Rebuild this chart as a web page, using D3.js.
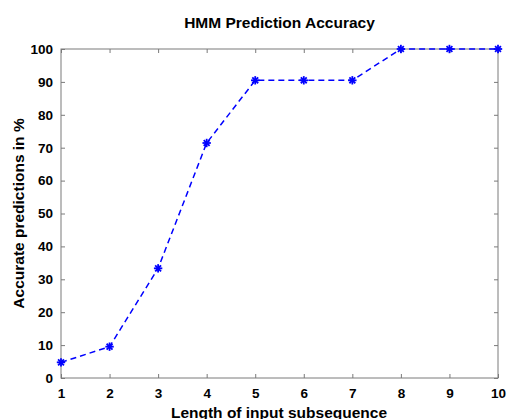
<!DOCTYPE html>
<html>
<head>
<meta charset="utf-8">
<script src="https://cdn.jsdelivr.net/npm/d3@7"></script>
<style>
  body { margin: 0; background: #fff; }
  svg text { font-family: "Liberation Sans", Arial, sans-serif; font-weight: bold; fill: #000; }
</style>
</head>
<body>
<div id="chart"></div>
<script>
const lengths = [1, 2, 3, 4, 5, 6, 7, 8, 9, 10];
const accuracy = [4.76, 9.52, 33.33, 71.43, 90.48, 90.48, 90.48, 100, 100, 100];
const xTicks = [1, 2, 3, 4, 5, 6, 7, 8, 9, 10];
const yTicks = [0, 10, 20, 30, 40, 50, 60, 70, 80, 90, 100];

const width = 507, height = 419;
const margin = { top: 49, right: 9, bottom: 41, left: 61 };
const innerW = width - margin.left - margin.right;
const innerH = height - margin.top - margin.bottom;

const svg = d3.select('#chart')
	.append('svg')
	.attr('width', width)
	.attr('height', height);

const g = svg.append('g')
	.attr('transform', `translate(${margin.left},${margin.top})`);

const x = d3.scaleLinear().domain([1, 10]).range([0, innerW]);
const y = d3.scaleLinear().domain([0, 100]).range([innerH, 0]);

const axisColor = '#7a7a7a';

// box
g.append('rect')
	.attr('width', innerW)
	.attr('height', innerH)
	.attr('fill', 'none')
	.attr('stroke', axisColor)
	.attr('stroke-width', 1);

// bottom axis
const xAxis = g.append('g')
	.attr('transform', `translate(0,${innerH})`)
	.call(d3.axisBottom(x).tickValues(xTicks).tickSize(-4).tickPadding(10).tickFormat(d3.format('d')));
// top ticks
const xTop = g.append('g')
	.call(d3.axisTop(x).tickValues(xTicks).tickSize(-4).tickFormat(''));
// left axis
const yAxis = g.append('g')
	.call(d3.axisLeft(y).tickValues(yTicks).tickSize(-4).tickPadding(8));
// right ticks
const yRight = g.append('g')
	.attr('transform', `translate(${innerW},0)`)
	.call(d3.axisRight(y).tickValues(yTicks).tickSize(-4).tickFormat(''));

[xAxis, xTop, yAxis, yRight].forEach((a) => {
	a.select('.domain').remove();
	a.selectAll('line').attr('stroke', axisColor);
	a.selectAll('text')
		.attr('font-size', 13.5)
		.attr('font-weight', 'bold')
		.attr('fill', '#000');
});

// line
const line = d3.line()
	.x((d, i) => x(lengths[i]))
	.y((d) => y(d));

g.append('path')
	.datum(accuracy)
	.attr('fill', 'none')
	.attr('stroke', '#0000ff')
	.attr('stroke-width', 1.5)
	.attr('stroke-dasharray', '6,4')
	.attr('d', line);

// asterisk markers
const star = g.selectAll('.marker')
	.data(accuracy)
	.enter()
	.append('g')
	.attr('class', 'marker')
	.attr('transform', (d, i) => `translate(${x(lengths[i])},${y(d)})`);

const r = 4.2;
[[-r, 0, r, 0], [0, -r, 0, r], [-r * 0.7, -r * 0.7, r * 0.7, r * 0.7], [-r * 0.7, r * 0.7, r * 0.7, -r * 0.7]]
	.forEach((s) => {
		star.append('line')
			.attr('x1', s[0]).attr('y1', s[1])
			.attr('x2', s[2]).attr('y2', s[3])
			.attr('stroke', '#0000ff')
			.attr('stroke-width', 1.8);
	});

// title and labels
svg.append('text')
	.attr('x', margin.left + innerW / 2)
	.attr('y', 28)
	.attr('text-anchor', 'middle')
	.attr('font-size', 15.5)
	.text('HMM Prediction Accuracy');

svg.append('text')
	.attr('x', margin.left + innerW / 2 - 0.5)
	.attr('y', 418)
	.attr('text-anchor', 'middle')
	.attr('font-size', 15.5)
	.text('Length of input subsequence');

svg.append('text')
	.attr('transform', `translate(24,${margin.top + innerH / 2}) rotate(-90)`)
	.attr('text-anchor', 'middle')
	.attr('font-size', 15.5)
	.text('Accurate predictions in %');
</script>
</body>
</html>
